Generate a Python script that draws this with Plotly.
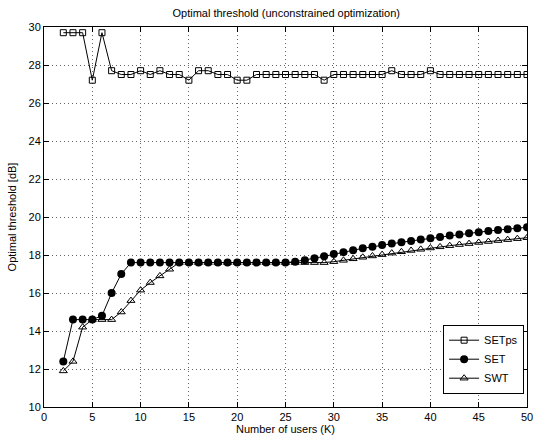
import plotly.graph_objects as go

users = list(range(2, 51))

setps = [29.7, 29.7, 29.7, 27.2, 29.7, 27.7, 27.5, 27.5, 27.7, 27.5,
         27.7, 27.5, 27.5, 27.2, 27.7, 27.7, 27.5, 27.5, 27.2, 27.2,
         27.5, 27.5, 27.5, 27.5, 27.5, 27.5, 27.5, 27.2, 27.5, 27.5,
         27.5, 27.5, 27.5, 27.5, 27.7, 27.5, 27.5, 27.5, 27.7, 27.5,
         27.5, 27.5, 27.5, 27.5, 27.5, 27.5, 27.5, 27.5, 27.5]

set_ = [12.4, 14.6, 14.6, 14.6, 14.8, 16.0, 17.0, 17.6, 17.6, 17.6,
        17.6, 17.6, 17.6, 17.6, 17.6, 17.6, 17.6, 17.6, 17.6, 17.6,
        17.6, 17.6, 17.6, 17.6, 17.65, 17.73, 17.83, 17.93, 18.05, 18.15,
        18.25, 18.35, 18.44, 18.52, 18.6, 18.67, 18.74, 18.81, 18.88, 18.95,
        19.02, 19.08, 19.14, 19.2, 19.26, 19.31, 19.36, 19.41, 19.46]

swt = [11.9, 12.4, 14.2, 14.6, 14.6, 14.6, 15.0, 15.6, 16.15, 16.55,
       16.9, 17.25, 17.6, 17.6, 17.6, 17.6, 17.6, 17.6, 17.6, 17.6,
       17.6, 17.6, 17.6, 17.6, 17.6, 17.6, 17.6, 17.6, 17.65, 17.72,
       17.8, 17.88, 17.95, 18.02, 18.1, 18.17, 18.24, 18.3, 18.37, 18.43,
       18.49, 18.55, 18.6, 18.66, 18.71, 18.76, 18.81, 18.86, 18.91]

x_ticks = list(range(0, 51, 5))
y_ticks = list(range(10, 31, 2))

fig = go.Figure()
fig.add_trace(go.Scatter(
    x=users, y=setps, name="SETps", mode="lines+markers",
    line=dict(color="black", width=1),
    marker=dict(symbol="square-open", size=6, color="black", line=dict(width=1))))
fig.add_trace(go.Scatter(
    x=users, y=set_, name="SET", mode="lines+markers",
    line=dict(color="black", width=1),
    marker=dict(symbol="circle", size=8, color="black")))
fig.add_trace(go.Scatter(
    x=users, y=swt, name="SWT", mode="lines+markers",
    line=dict(color="black", width=1),
    marker=dict(symbol="triangle-up-open", size=7, color="black", line=dict(width=1))))

axis_common = dict(
    showline=True, linecolor="black", linewidth=1, mirror="ticks",
    ticks="inside", ticklen=5, tickcolor="black",
    showgrid=True, gridcolor="#666", griddash="1px,3px", gridwidth=1,
    zeroline=False, tickfont=dict(size=11, color="black"), automargin=False,
)

fig.update_xaxes(range=[0, 50], tickvals=x_ticks,
                 title=dict(text="Number of users (K)", font=dict(size=11, color="black"), standoff=0),
                 **axis_common)
fig.update_yaxes(range=[10, 30], tickvals=y_ticks,
                 title=dict(text="Optimal threshold [dB]", font=dict(size=11, color="black"), standoff=9),
                 **axis_common)

fig.update_layout(
    width=535, height=436,
    margin=dict(l=44, r=8, t=27, b=29),
    paper_bgcolor="white", plot_bgcolor="white",
    font=dict(family="Liberation Sans, Arial, sans-serif", size=11, color="black"),
    title=dict(text="Optimal threshold (unconstrained optimization)", x=0.535, xanchor="center",
               y=0.97, yanchor="middle", font=dict(size=11, color="black")),
    legend=dict(x=0.994, y=0.035, xanchor="right", yanchor="bottom",
                bordercolor="black", borderwidth=1, bgcolor="white",
                font=dict(size=11), itemwidth=30, tracegroupgap=0),
    showlegend=True,
)

fig.write_html("out.html", config={"displayModeBar": False},
               post_script="document.body.style.margin='0px';document.body.style.overflow='hidden';")
